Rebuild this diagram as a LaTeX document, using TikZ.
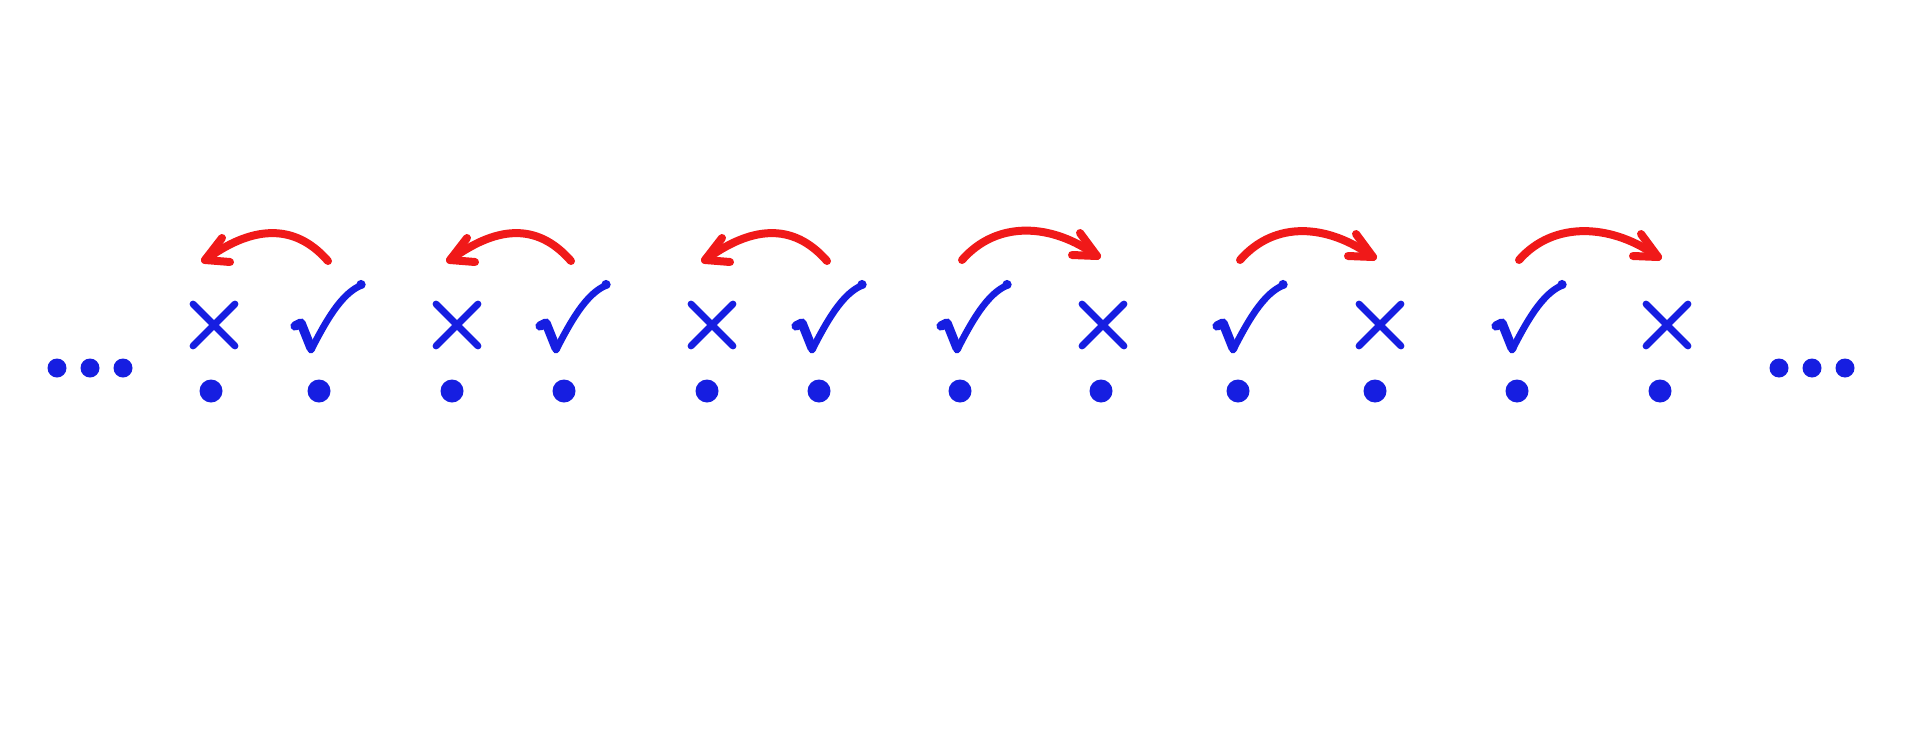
\documentclass[tikz,border=0pt]{standalone}
\definecolor{dotblue}{RGB}{22,30,225}
\definecolor{arrred}{RGB}{240,25,25}
\tikzset{
  bigdot/.style={circle,fill=dotblue,inner sep=0pt,minimum size=11.5pt},
  smalldot/.style={circle,fill=dotblue,inner sep=0pt,minimum size=9.5pt},
  markline/.style={draw=dotblue,line width=3.4pt,line cap=round,line join=round},
  jump/.style={draw=arrred,line width=4pt,line cap=round,line join=round},
  crossmark/.pic={\draw[markline] (-21,-21) -- (21,21) (-21,21) -- (21,-21);},
  checkmark/.pic={
    \draw[markline,line width=4.6pt] (-16,-24) -- (-10,-27) -- (0,-2);
    \draw[markline] (0,0) .. controls (14,-27) and (30,-57) .. (51,-65);
    \fill[dotblue] (50,-65.5) circle (2.3pt);},
}
\begin{document}
\begin{tikzpicture}[x=0.5pt,y=-0.5pt]
\useasboundingbox[fill=white] (0,0) rectangle (1920,739);
% ellipsis dots
\node[smalldot] (e1) at (57,368) {};
\node[smalldot] (e2) at (90,368) {};
\node[smalldot] (e3) at (123,368) {};
\node[smalldot] (e4) at (1779,368) {};
\node[smalldot] (e5) at (1812,368) {};
\node[smalldot] (e6) at (1845,368) {};
% site dots
\node[bigdot] (d1) at (211,391) {};
\node[bigdot] (d2) at (319,391) {};
\node[bigdot] (d3) at (452,391) {};
\node[bigdot] (d4) at (564,391) {};
\node[bigdot] (d5) at (707,391) {};
\node[bigdot] (d6) at (819,391) {};
\node[bigdot] (d7) at (960,391) {};
\node[bigdot] (d8) at (1101,391) {};
\node[bigdot] (d9) at (1238,391) {};
\node[bigdot] (d10) at (1375,391) {};
\node[bigdot] (d11) at (1517,391) {};
\node[bigdot] (d12) at (1660,391) {};
% marks
\pic (x1) at ([shift={(3,-66)}]d1.center) {crossmark};
\pic (c1) at ([shift={(-8,-41)}]d2.center) {checkmark};
\pic (x2) at ([shift={(5,-66)}]d3.center) {crossmark};
\pic (c2) at ([shift={(-8,-41)}]d4.center) {checkmark};
\pic (x3) at ([shift={(5,-66)}]d5.center) {crossmark};
\pic (c3) at ([shift={(-7,-41)}]d6.center) {checkmark};
\pic (c4) at ([shift={(-3,-41)}]d7.center) {checkmark};
\pic (x4) at ([shift={(2,-66)}]d8.center) {crossmark};
\pic (c5) at ([shift={(-5,-41)}]d9.center) {checkmark};
\pic (x5) at ([shift={(5,-66)}]d10.center) {crossmark};
\pic (c6) at ([shift={(-5,-41)}]d11.center) {checkmark};
\pic (x6) at ([shift={(7,-66)}]d12.center) {crossmark};
% arrow ends
\coordinate (s1) at ([shift={(9,-130)}]d2.center);
\coordinate (t1) at ([shift={(-6,-131)}]d1.center);
\coordinate (s2) at ([shift={(7,-130)}]d4.center);
\coordinate (t2) at ([shift={(-2,-131)}]d3.center);
\coordinate (s3) at ([shift={(8,-130)}]d6.center);
\coordinate (t3) at ([shift={(-2,-131)}]d5.center);
\coordinate (s4) at ([shift={(2,-131)}]d7.center);
\coordinate (t4) at ([shift={(-4,-135)}]d8.center);
\coordinate (s5) at ([shift={(2,-131)}]d9.center);
\coordinate (t5) at ([shift={(-2,-134)}]d10.center);
\coordinate (s6) at ([shift={(2,-131)}]d11.center);
\coordinate (t6) at ([shift={(-2,-134)}]d12.center);
% arrows: leftward
\foreach \s/\t in {s1/t1,s2/t2,s3/t3}{
  \draw[jump] (\s) .. controls +(-35,-40) and +(45,-33) .. (\t);
  \draw[jump] ([shift={(17,-22)}]\t) -- (\t) -- ([shift={(25,2)}]\t);
}
% arrows: rightward
\foreach \s/\t in {s4/t4,s5/t5,s6/t6}{
  \draw[jump] (\s) .. controls +(35,-40) and +(-45,-33) .. (\t);
  \draw[jump] ([shift={(-17,-23)}]\t) -- (\t) -- ([shift={(-25,-1)}]\t);
}
\end{tikzpicture}
\end{document}
